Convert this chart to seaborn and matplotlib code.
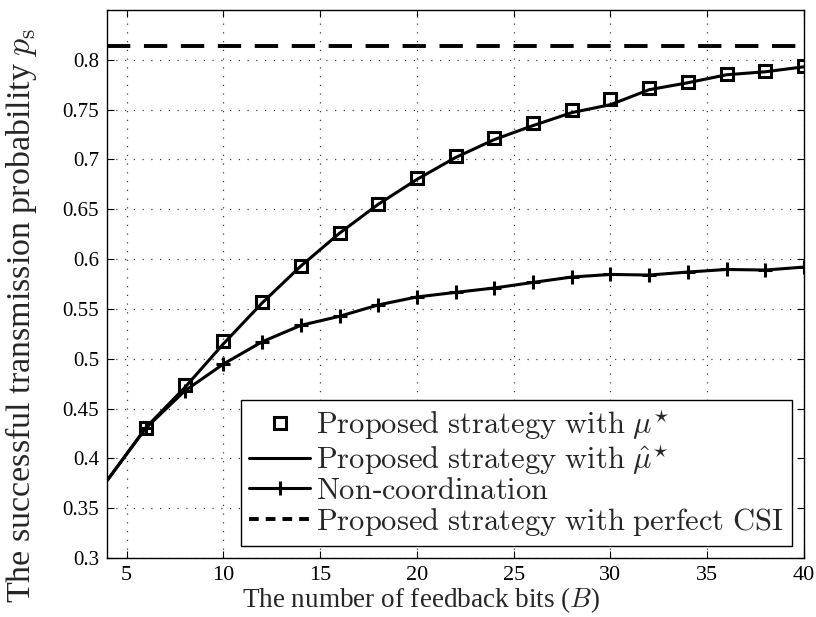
import numpy as np
import pandas as pd
import seaborn as sns
import matplotlib
matplotlib.use("Agg")
import matplotlib.pyplot as plt
from matplotlib.lines import Line2D

# ---- data ----
B_mu = [6, 8, 10, 12, 14, 16, 18, 20, 22, 24, 26, 28, 30, 32, 34, 36, 38, 40]
mu_star = [0.4305, 0.474, 0.5175, 0.557, 0.593, 0.626, 0.655, 0.681, 0.703,
           0.722, 0.737, 0.750, 0.761, 0.772, 0.778, 0.786, 0.789, 0.794]
B_line = [4, 6, 8, 10, 12, 14, 16, 18, 20, 22, 24, 26, 28, 30, 32, 34, 36, 38, 40]
mu_hat = [0.378, 0.431, 0.471, 0.515, 0.556, 0.593, 0.626, 0.655, 0.680, 0.702,
          0.720, 0.734, 0.747, 0.755, 0.770, 0.777, 0.785, 0.788, 0.793]
noncoord = [0.378, 0.4305, 0.4677, 0.4947, 0.517, 0.5335, 0.5426, 0.554, 0.562,
            0.5666, 0.571, 0.5766, 0.582, 0.5846, 0.584, 0.587, 0.5896, 0.589, 0.592]
B_csi = [4, 40]
perfect_csi = [0.814, 0.814]

x_ticks = [5, 10, 15, 20, 25, 30, 35, 40]
y_ticks = [0.3, 0.35, 0.4, 0.45, 0.5, 0.55, 0.6, 0.65, 0.7, 0.75, 0.8]
y_ticklabels = ["0.3", "0.35", "0.4", "0.45", "0.5", "0.55", "0.6", "0.65",
                "0.7", "0.75", "0.8"]

labels = [r"$\mathrm{Proposed\ strategy\ with}\ \mu^{\star}$",
          r"$\mathrm{Proposed\ strategy\ with}\ \hat{\mu}^{\star}$",
          r"$\mathrm{Non}$-$\mathrm{coordination}$",
          r"$\mathrm{Proposed\ strategy\ with\ perfect\ CSI}$"]

sns.set_theme(style="ticks")
plt.rcParams["font.family"] = ["Liberation Serif", "DejaVu Serif"]
plt.rcParams["mathtext.fontset"] = "cm"

fig = plt.figure(figsize=(8.16, 6.17), dpi=100)
ax = fig.add_axes([0.1315, 0.0956, 0.8538, 0.8882])

df_mu = pd.DataFrame({"B": B_mu, "p": mu_star})
df_hat = pd.DataFrame({"B": B_line, "p": mu_hat})
df_nc = pd.DataFrame({"B": B_line, "p": noncoord})
df_csi = pd.DataFrame({"B": B_csi, "p": perfect_csi})

sns.lineplot(data=df_hat, x="B", y="p", ax=ax, color="black", lw=2.2,
             estimator=None, sort=False, zorder=3)
sns.lineplot(data=df_nc, x="B", y="p", ax=ax, color="black", lw=2.2,
             marker="+", markersize=10, markeredgewidth=2.2,
             markeredgecolor="black",
             markevery=list(range(1, len(B_line))),
             estimator=None, sort=False, zorder=3)
sns.lineplot(data=df_mu, x="B", y="p", ax=ax, color="black", lw=0,
             marker="s", markersize=9, markerfacecolor="none",
             markeredgecolor="black", markeredgewidth=2.2,
             estimator=None, sort=False, zorder=4)
n_before = len(ax.lines)
sns.lineplot(data=df_csi, x="B", y="p", ax=ax, color="black", lw=2.8,
             estimator=None, sort=False, zorder=3)
for ln in ax.lines[n_before:]:
    ln.set_dashes((6, 3.5))

ax.set_xlim(4, 40)
ax.set_ylim(0.3, 0.85)
ax.set_xticks(x_ticks)
ax.set_yticks(y_ticks)
ax.set_yticklabels(y_ticklabels)
ax.tick_params(direction="in", length=5, width=0.8, top=True, right=True,
               colors="black")
ax.tick_params(axis="x", labelsize=16, pad=6)
ax.tick_params(axis="y", labelsize=15, pad=6)
for s in ax.spines.values():
    s.set_visible(True)
    s.set_color("black")
    s.set_linewidth(1.0)
ax.grid(True, color="0.25", linestyle=(0, (1, 6)), linewidth=0.9)

ax.set_xlabel("The number of feedback bits ($B$)", fontsize=19.5)
ax.set_ylabel(r"The successful transmission probability $p_{\mathrm{s}}$",
              fontsize=24.5)
ax.xaxis.set_label_coords(0.45, -0.049, transform=ax.transAxes)
ax.xaxis.label.set_va("top")
ax.yaxis.set_label_coords(-0.124, 0.443, transform=ax.transAxes)
ax.yaxis.label.set_va("center")

handles = [
    Line2D([], [], ls="none", marker="s", ms=9, mfc="none", mec="black", mew=2.2),
    Line2D([], [], color="black", lw=2.2),
    Line2D([], [], color="black", lw=2.2, marker="+", ms=10, mew=2.2),
    Line2D([], [], color="black", lw=2.8, dashes=(2.5, 1.8)),
]
leg = ax.legend(handles, labels, loc="lower right", fontsize=22,
                frameon=True, fancybox=False, edgecolor="black",
                framealpha=1, handlelength=2.0, handletextpad=0.2,
                labelspacing=0.0, borderpad=0.25, borderaxespad=0.4)
leg.get_frame().set_linewidth(1.0)

fig.savefig("out.png", dpi=100)
